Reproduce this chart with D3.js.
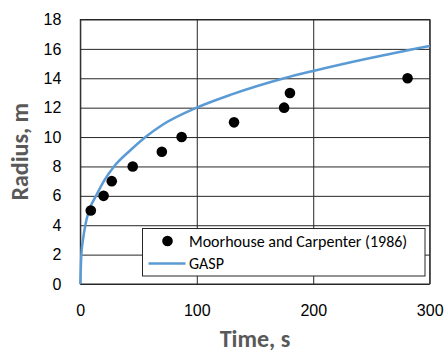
<!DOCTYPE html>
<html>
<head>
<meta charset="utf-8">
<script src="https://cdn.jsdelivr.net/npm/d3@7"></script>
<style>
  body { margin: 0; background: #fff; }
  svg { display: block; font-family: Carlito, Calibri, Lato, sans-serif; }
  .tick text { font-size: 16px; fill: #000; }
  .grid .tick line { stroke: #262626; stroke-width: 1; }
</style>
</head>
<body>
<svg id="chart"></svg>
<script>
// measured points (Moorhouse and Carpenter, 1986)
const obsTime   = [9, 20, 27, 45, 70, 87, 132, 175, 180, 281];
const obsRadius = [5, 6, 7, 8, 9, 10, 11, 12, 13, 14];

// GASP model curve
const gaspTime   = [0, 0.9, 2.3, 4.3, 7.5, 13.5, 21, 29, 43, 56, 70, 100, 130, 175, 200, 250, 300];
const gaspRadius = [0, 2, 3, 4, 5, 6, 7.1, 8, 9.1, 10, 10.8, 12, 12.9, 14, 14.5, 15.4, 16.2];

const xTicks = [0, 100, 200, 300];
const yTicks = [0, 2, 4, 6, 8, 10, 12, 14, 16, 18];
const seriesNames = ["Moorhouse and Carpenter (1986)", "GASP"];

const W = 445, H = 353;
const margin = {left: 80.3, top: 19.5, right: 15.3, bottom: 69};
const width = W - margin.left - margin.right;
const height = H - margin.top - margin.bottom;
const blue = "#5B9BD5";

const svg = d3.select("#chart").attr("width", W).attr("height", H);
const g = svg.append("g").attr("transform", `translate(${margin.left},${margin.top})`);

const x = d3.scaleLinear().domain([0, 300]).range([0, width]);
const y = d3.scaleLinear().domain([0, 18]).range([height, 0]);

// grid + tick labels
g.append("g")
  .attr("class", "grid")
  .attr("transform", `translate(0,${height})`)
  .call(d3.axisBottom(x).tickValues(xTicks).tickSize(-height).tickPadding(21))
  .call(s => s.select(".domain").remove());

g.append("g")
  .attr("class", "grid")
  .call(d3.axisLeft(y).tickValues(yTicks).tickSize(-width).tickPadding(19))
  .call(s => s.select(".domain").remove());

// plot frame
g.append("rect")
  .attr("width", width).attr("height", height)
  .attr("fill", "none").attr("stroke", "#262626").attr("stroke-width", 1);

// model curve
const gasp = gaspTime.map((t, i) => [t, gaspRadius[i]]);
g.append("path")
  .datum(gasp)
  .attr("fill", "none")
  .attr("stroke", blue)
  .attr("stroke-width", 2.5)
  .attr("d", d3.line().x(d => x(d[0])).y(d => y(d[1])).curve(d3.curveMonotoneX));

// observations
g.selectAll(".dot")
  .data(obsTime.map((t, i) => [t, obsRadius[i]]))
  .enter().append("circle")
  .attr("class", "dot")
  .attr("cx", d => x(d[0]))
  .attr("cy", d => y(d[1]))
  .attr("r", 5.3)
  .attr("fill", "#000");

// legend
const lg = svg.append("g").attr("transform", "translate(142.5,228.5)");
lg.append("rect")
  .attr("width", 282.5).attr("height", 47.5)
  .attr("fill", "#fff").attr("stroke", "#262626").attr("stroke-width", 1);
lg.append("circle").attr("cx", 25).attr("cy", 12.5).attr("r", 5.3).attr("fill", "#000");
lg.append("line")
  .attr("x1", 6).attr("x2", 43).attr("y1", 35).attr("y2", 35)
  .attr("stroke", blue).attr("stroke-width", 2.5);
lg.selectAll(".lab")
  .data(seriesNames)
  .enter().append("text")
  .attr("class", "lab")
  .attr("x", 46.5)
  .attr("y", (d, i) => 18.3 + i * 22.5)
  .style("font-size", "16px")
  .text(d => d);

// axis titles
svg.append("text")
  .attr("x", margin.left + width / 2)
  .attr("y", 347)
  .attr("text-anchor", "middle")
  .style("font-size", "24px").style("font-weight", "bold").style("fill", "#595959")
  .text("Time, s");

svg.append("text")
  .attr("transform", `translate(28,${margin.top + height / 2}) rotate(-90)`)
  .attr("text-anchor", "middle")
  .style("font-size", "24px").style("font-weight", "bold").style("fill", "#595959")
  .text("Radius, m");
</script>
</body>
</html>
